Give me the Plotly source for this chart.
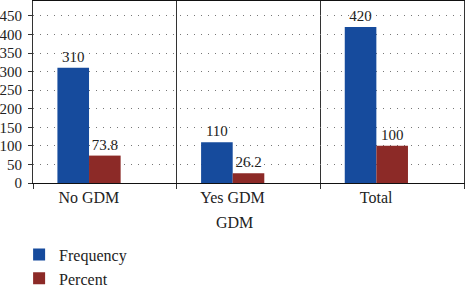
import plotly.graph_objects as go

categories = ["No GDM", "Yes GDM", "Total"]
frequency = [310, 110, 420]
percent = [73.8, 26.2, 100]
y_ticks = [0, 50, 100, 150, 200, 250, 300, 350, 400, 450]

FONT = "Liberation Serif, Times New Roman, serif"
BLUE = "#164b9d"
RED = "#8c2a27"

fig = go.Figure()
fig.add_trace(go.Bar(
    x=categories, y=frequency, name="Frequency",
    marker=dict(color=BLUE, line=dict(width=0)),
    width=0.22, offset=-0.33,
    text=frequency, texttemplate="%{y}", textposition="outside",
    textfont=dict(family=FONT, size=15, color="#222"),
    cliponaxis=False,
))
fig.add_trace(go.Bar(
    x=categories, y=percent, name="Percent",
    marker=dict(color=RED, line=dict(width=0)),
    width=0.22, offset=-0.11,
    text=percent, texttemplate="%{y}", textposition="outside",
    textfont=dict(family=FONT, size=15, color="#222"),
    cliponaxis=False,
))

fig.update_layout(
    width=466, height=287,
    margin=dict(l=33, r=2, t=1, b=104, autoexpand=False),
    paper_bgcolor="white", plot_bgcolor="white",
    font=dict(family=FONT, size=15, color="#222"),
    showlegend=True,
    legend=dict(
        orientation="v", xref="container", yref="container",
        x=0.041, xanchor="left", y=0.172, yanchor="top",
        font=dict(family=FONT, size=16, color="#222"),
        bgcolor="rgba(0,0,0,0)", tracegroupgap=0, itemclick=False,
    ),
    xaxis=dict(
        type="category", range=[-0.5, 2.5], automargin=False,
        tickson="boundaries", ticks="outside", ticklen=5, tickcolor="#333",
        showgrid=True, gridcolor="#333", gridwidth=1,
        showline=True, linecolor="#111", linewidth=1, mirror=True,
        tickfont=dict(family=FONT, size=16, color="#222"),
        ticklabelshift=-16,
        zeroline=False,
    ),
    yaxis=dict(
        range=[0, 490], tickvals=y_ticks, automargin=False,
        ticks="outside", ticklen=4, tickcolor="#333",
        ticklabelstandoff=3,
        showgrid=True, gridcolor="#777", gridwidth=1, griddash="1px,6px",
        showline=True, linecolor="#333", linewidth=1, mirror=True,
        tickfont=dict(family=FONT, size=15, color="#222"),
        zeroline=False,
    ),
    annotations=[dict(
        text="GDM", xref="paper", yref="paper", x=0.468, y=-0.215,
        xanchor="center", yanchor="middle", showarrow=False,
        font=dict(family=FONT, size=16, color="#222"),
    )],
)

fig.write_html(
    "out.html",
    config={"displayModeBar": False},
    post_script="document.body.style.margin='0';document.body.style.overflow='hidden';",
)
